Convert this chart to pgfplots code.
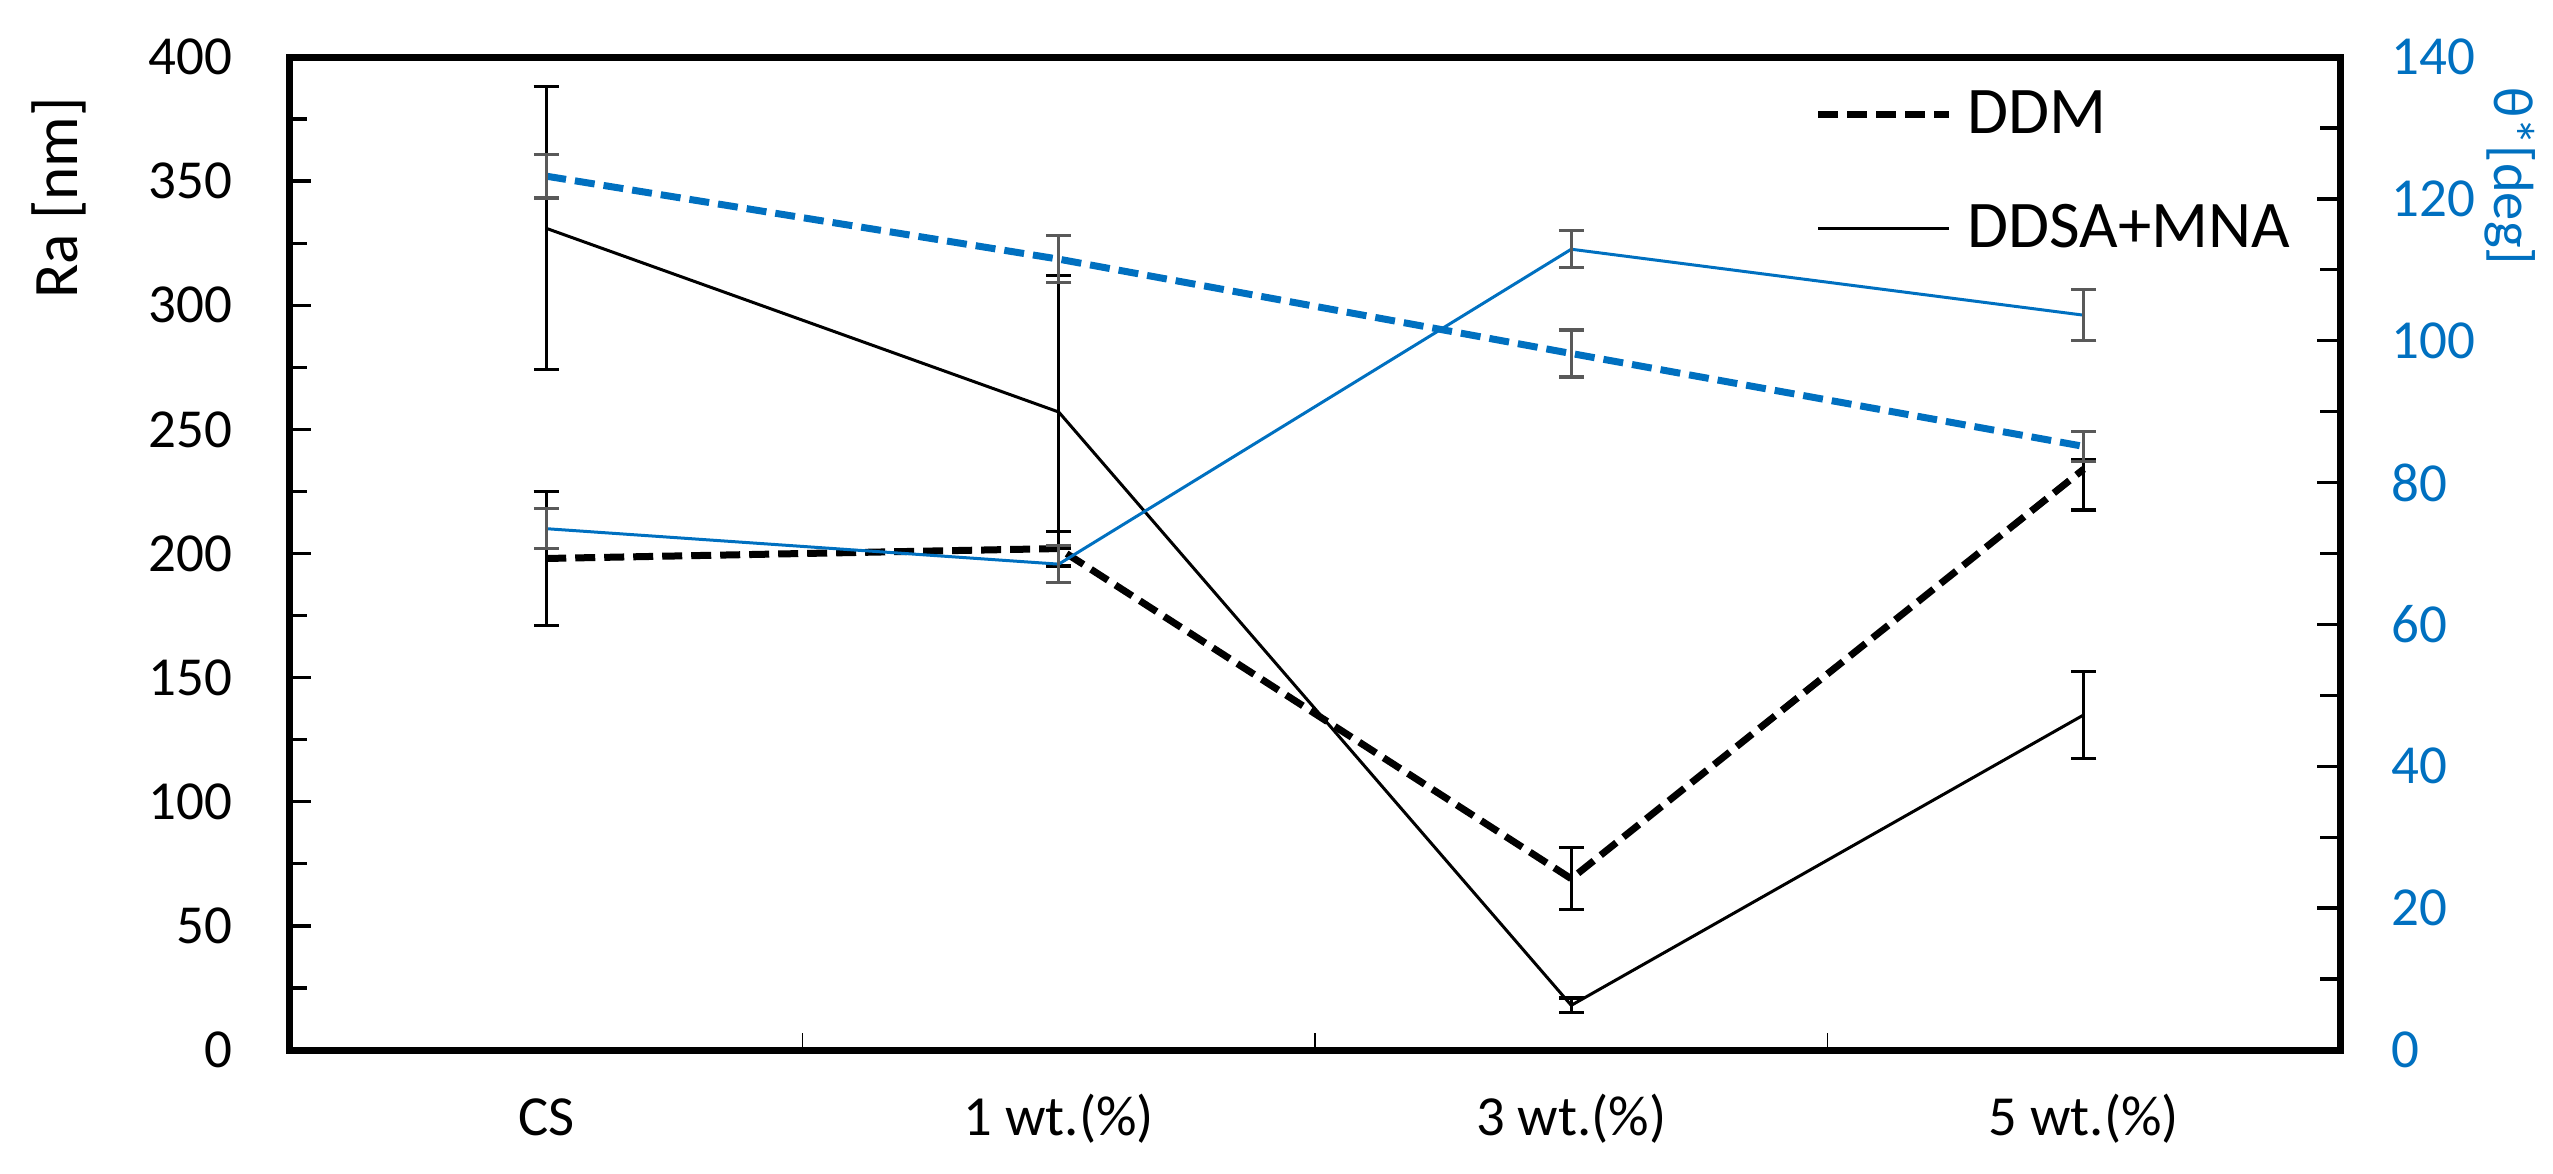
\documentclass[border=0pt]{standalone}
\usepackage{fontspec}
\setmainfont{Carlito}
\usepackage{pgfplots}
\usepackage{pgfplotstable}
\pgfplotsset{compat=1.18}
\definecolor{xlblue}{HTML}{0070C0}
\definecolor{ebgrey}{HTML}{595959}

\pgfplotstableread{
x y ep em
0 198 27 27
1 202 7 7
2 69 12.5 12.5
3 234 4 16.5
}\ddm
\pgfplotstableread{
x y ep em
0 331 57 57
1 257 55 55
2 18 3 3
3 135 17.5 17.5
}\ddsa
\pgfplotstableread{
x y ep em
0 123.2 3.1 3.1
1 111.5 3.3 3.3
2 98.2 3.3 3.3
3 85.1 2.1 2.1
}\thddm
\pgfplotstableread{
x y ep em
0 73.5 2.8 2.8
1 68.5 2.6 2.6
2 112.9 2.6 2.6
3 103.6 3.6 3.6
}\thddsa

\begin{document}
\begin{tikzpicture}
\useasboundingbox (-87pt,-36.9pt) rectangle (678.9pt,315pt);
\begin{axis}[
  at={(0,0)}, anchor=south west,
  scale only axis, width=615pt, height=297.9pt,
  xmin=-0.5, xmax=3.5, ymin=0, ymax=400,
  axis line style={line width=2.1pt},
  tick align=inside,
  ytick={0,50,...,400}, minor y tick num=1, ytick pos=left,
  xtick={0,1,2,3}, xticklabels={CS,1 wt.(\%),3 wt.(\%),5 wt.(\%)},
  xtick pos=bottom,
  minor xtick={0.5,1.5,2.5},
  major x tick style={draw=none},
  minor x tick style={line width=0.5pt, black},
  major y tick style={line width=1pt, black},
  minor y tick style={line width=1pt, black},
  major tick length=6.3pt, minor tick length=5.2pt,
  /pgf/number format/assume math mode=true,
  yticklabel style={font=\fontsize{16.5}{19}\selectfont, anchor=east, inner sep=0pt, xshift=-17.1pt},
  xticklabel style={font=\fontsize{17}{20}\selectfont, anchor=base, inner sep=0pt, yshift=-25.5pt},
  every axis y label/.style={at={(rel axis cs:-0.1127,0.858)}, rotate=90, anchor=center, font=\fontsize{19}{22}\selectfont},
  ylabel={Ra [nm]},
  legend cell align=left,
  legend image code/.code={\draw[#1] (0pt,0pt) -- (39.3pt,0pt);},
  legend style={draw=none, fill=none, at={(rel axis cs:0.7434,0.9668)}, anchor=north west,
    inner sep=0pt, row sep=19.7pt, column sep=4.5pt, font=\fontsize{20}{24}\selectfont,
    nodes={inner sep=0pt}},
  error bars/y dir=both, error bars/y explicit,
  error bars/error bar style={solid, line width=1pt, black},
  error bars/error mark options={solid, line width=1pt, mark size=3.75pt, rotate=90, black},
]
\addplot[black, line width=2.1pt, dash pattern=on 6pt off 2.7pt, mark=none]
  table[x=x, y=y, y error plus=ep, y error minus=em] {\ddm};
\addlegendentry{DDM}
\addplot[black, line width=0.9pt, mark=none]
  table[x=x, y=y, y error plus=ep, y error minus=em] {\ddsa};
\addlegendentry{DDSA+MNA}
\end{axis}
\begin{axis}[
  at={(0,0)}, anchor=south west,
  scale only axis, width=615pt, height=297.9pt,
  xmin=-0.5, xmax=3.5, ymin=0, ymax=140,
  axis x line=none, axis y line*=right,
  y axis line style={line width=2.1pt, -},
  tick align=inside,
  ytick={0,20,...,140}, minor y tick num=1,
  major y tick style={line width=1pt, black},
  minor y tick style={line width=1pt, black},
  major tick length=7pt, minor tick length=6pt,
  /pgf/number format/assume math mode=true,
  yticklabel style={font=\fontsize{16.5}{19}\selectfont, text=xlblue, anchor=west, inner sep=0pt, xshift=15.3pt},
  every axis y label/.style={at={(rel axis cs:1.0829,0.88)}, rotate=-90, anchor=center, font=\fontsize{17}{20}\selectfont, text=xlblue},
  ylabel={θ*[deg]},
  error bars/y dir=both, error bars/y explicit,
  error bars/error bar style={solid, line width=1pt, ebgrey},
  error bars/error mark options={solid, line width=1pt, mark size=3.75pt, rotate=90, ebgrey},
]
\addplot[xlblue, line width=2.1pt, dash pattern=on 6pt off 2.7pt, mark=none]
  table[x=x, y=y, y error plus=ep, y error minus=em] {\thddm};
\addplot[xlblue, line width=0.9pt, mark=none]
  table[x=x, y=y, y error plus=ep, y error minus=em] {\thddsa};
\end{axis}
\end{tikzpicture}
\end{document}
